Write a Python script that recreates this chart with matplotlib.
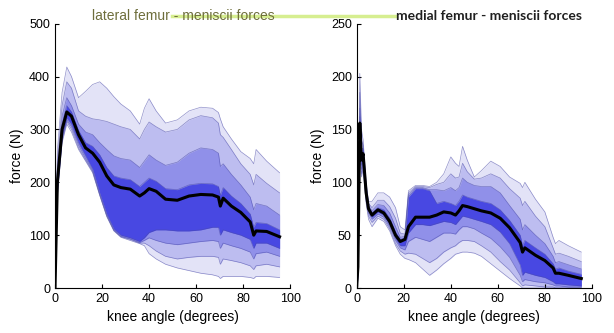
import matplotlib
matplotlib.use('Agg')
from matplotlib import pylab as plt
from matplotlib.lines import Line2D
import numpy as np

plt.rcParams['font.family'] = ['Liberation Sans', 'DejaVu Sans']

# lateral (left panel): knee angle grid, median and percentile envelopes (outer -> inner)
lat_x = [0, 1, 3, 5, 7, 10, 13, 16, 19, 22, 25, 28, 32, 36, 38, 40, 43, 47, 52, 57, 62, 67,
         69.5, 70.3, 71.5, 75, 79, 83, 84.5, 85.5, 90, 95.5]
lat_med = [0, 200, 300, 333, 325, 290, 265, 255, 238, 212, 195, 190, 187, 174, 180, 188, 183, 168,
           166, 174, 177, 176, 172, 155, 170, 155, 143, 125, 100, 108, 107, 97]
lat_u1 = [0, 260, 370, 418, 400, 360, 372, 385, 390, 378, 362, 348, 335, 310, 340, 358, 335, 312,
          318, 335, 342, 340, 332, 320, 305, 282, 258, 245, 235, 262, 240, 218]
lat_u2 = [0, 240, 345, 390, 378, 335, 325, 320, 318, 315, 310, 305, 300, 282, 300, 314, 305, 295,
          300, 318, 326, 322, 312, 290, 285, 262, 235, 215, 195, 215, 198, 180]
lat_u3 = [0, 225, 325, 360, 345, 310, 295, 290, 275, 262, 250, 245, 242, 228, 240, 252, 242, 232,
          238, 255, 265, 262, 255, 230, 235, 215, 195, 172, 148, 160, 155, 138]
lat_u4 = [0, 210, 310, 345, 333, 298, 275, 268, 252, 228, 212, 208, 205, 192, 200, 208, 202, 188,
          186, 195, 198, 197, 192, 175, 190, 174, 160, 140, 115, 124, 122, 110]
lat_l4 = [0, 190, 290, 322, 310, 275, 250, 225, 180, 140, 112, 100, 95, 88, 95, 105, 110, 110,
          108, 108, 110, 115, 115, 100, 110, 105, 100, 92, 75, 85, 85, 75]
lat_l3 = [0, 185, 285, 318, 305, 270, 245, 222, 178, 138, 110, 98, 93, 86, 90, 95, 90, 85,
          82, 85, 88, 90, 88, 75, 85, 80, 75, 68, 55, 65, 68, 60]
lat_l2 = [0, 180, 280, 315, 300, 265, 242, 220, 176, 136, 109, 97, 92, 85, 85, 80, 70, 60,
          55, 58, 60, 60, 58, 45, 55, 52, 48, 42, 35, 42, 45, 40]
lat_l1 = [0, 175, 275, 310, 295, 262, 240, 218, 175, 135, 108, 96, 90, 84, 80, 65, 55, 45,
          38, 33, 28, 25, 22, 18, 22, 22, 22, 20, 18, 22, 22, 20]

# medial (right panel)
med_x = [0, 0.5, 1.3, 2, 2.7, 4, 5, 6.5, 9, 11.5, 14, 16.5, 18.5, 20.5, 22, 25, 28, 31, 34, 37,
         40, 42, 43.5, 45, 47, 50, 53, 57, 61, 65, 69.5, 70.5, 71.5, 76, 80, 83.5, 84.5, 86, 90, 95.5]
med_med = [2, 20, 156, 121, 127, 90, 75, 69, 74, 71, 63, 50, 44, 46, 58, 67, 67, 67, 69, 72,
           71, 69, 73, 78, 77, 75, 73, 71, 66, 57, 43, 34, 38, 31, 26, 19, 14, 14, 12, 9]
med_u1 = [10, 40, 203, 150, 140, 100, 82, 82, 90, 90, 86, 76, 58, 55, 92, 97, 97, 96, 100, 108,
          124, 118, 115, 134, 121, 105, 111, 120, 115, 105, 99, 95, 100, 84, 72, 48, 42, 45, 40, 34]
med_u2 = [8, 35, 185, 140, 135, 97, 80, 76, 83, 83, 77, 66, 52, 51, 90, 96, 96, 95, 98, 100,
          108, 104, 105, 118, 110, 103, 104, 108, 104, 94, 85, 78, 82, 68, 58, 38, 32, 33, 30, 25]
med_u3 = [6, 30, 170, 132, 132, 95, 78, 73, 79, 78, 71, 58, 48, 49, 88, 95, 95, 93, 93, 92,
          95, 92, 95, 104, 100, 97, 96, 96, 90, 78, 65, 55, 60, 50, 42, 30, 24, 25, 22, 18]
med_u4 = [4, 25, 162, 126, 130, 93, 77, 71, 76, 74, 66, 53, 46, 47, 86, 94, 94, 92, 80, 82,
          80, 78, 82, 88, 86, 84, 82, 80, 74, 64, 50, 40, 45, 38, 32, 23, 18, 19, 16, 13]
med_l4 = [1, 15, 150, 116, 122, 87, 73, 67, 72, 69, 60, 47, 40, 40, 52, 60, 60, 59, 61, 63,
          62, 60, 64, 68, 67, 65, 63, 60, 53, 42, 22, 12, 15, 12, 10, 6, 4, 4, 3, 2]
med_l3 = [0, 12, 145, 112, 118, 85, 71, 65, 70, 67, 58, 45, 38, 36, 44, 48, 46, 44, 48, 52,
          52, 51, 55, 58, 58, 56, 52, 47, 39, 29, 12, 6, 8, 6, 5, 3, 2, 2, 1, 1]
med_l2 = [0, 10, 140, 108, 115, 82, 68, 62, 68, 65, 56, 42, 35, 32, 33, 32, 28, 24, 28, 34,
          38, 40, 43, 45, 45, 44, 40, 34, 25, 17, 5, 2, 3, 2, 1, 1, 0, 0, 0, 0]
med_l1 = [0, 8, 135, 105, 112, 80, 65, 58, 66, 63, 54, 40, 32, 28, 27, 24, 18, 12, 17, 23,
          28, 32, 33, 34, 34, 33, 30, 23, 16, 9, 2, 0, 0, 0, 0, 0, 0, 0, 0, 0]

band_colors = ['#e3e3f7', '#bdbdf0', '#9090e9', '#4848e2']


def panel(ax, x, med, uppers, lowers, ymax, yticks):
    for up, lo, c in zip(uppers, lowers, band_colors):
        ax.fill_between(x, lo, up, color=c, lw=0)
    for curve in uppers + lowers:
        ax.plot(x, curve, color='#4a4aa8', lw=0.5, alpha=0.6)
    ax.plot(x, med, color='black', lw=2.2)
    ax.set_xlim(0, 100)
    ax.set_ylim(0, ymax)
    ax.set_xticks([0, 20, 40, 60, 80, 100])
    ax.set_yticks(yticks)
    ax.spines['top'].set_visible(False)
    ax.spines['right'].set_visible(False)
    ax.tick_params(direction='in', length=3, labelsize=9)
    ax.set_xlabel('knee angle (degrees)', fontsize=10)
    ax.set_ylabel('force (N)', fontsize=10)


fig = plt.figure(figsize=(6.14, 3.33), dpi=100)
ax1 = fig.add_axes([0.0896, 0.135, 0.383, 0.794])
ax2 = fig.add_axes([0.581, 0.135, 0.383, 0.794])

panel(ax1, lat_x, lat_med, [lat_u1, lat_u2, lat_u3, lat_u4], [lat_l1, lat_l2, lat_l3, lat_l4],
      500, [0, 100, 200, 300, 400, 500])
panel(ax2, med_x, med_med, [med_u1, med_u2, med_u3, med_u4], [med_l1, med_l2, med_l3, med_l4],
      250, [0, 50, 100, 150, 200, 250])

# faint strip behind the titles (as in the original export)
fig.add_artist(Line2D([0.28, 0.645], [0.951, 0.951], color='#d6ee90', lw=2.5))

fig.text(0.299, 0.953, 'lateral femur - meniscii forces', fontsize=10, color='#6e6e3c',
         ha='center', va='center')
fig.text(0.797, 0.953, 'medial femur - meniscii forces', fontsize=10, fontweight='bold',
         family=['Lato', 'DejaVu Sans'], color='#202020', ha='center', va='center')

plt.savefig('out.png', dpi=100)
